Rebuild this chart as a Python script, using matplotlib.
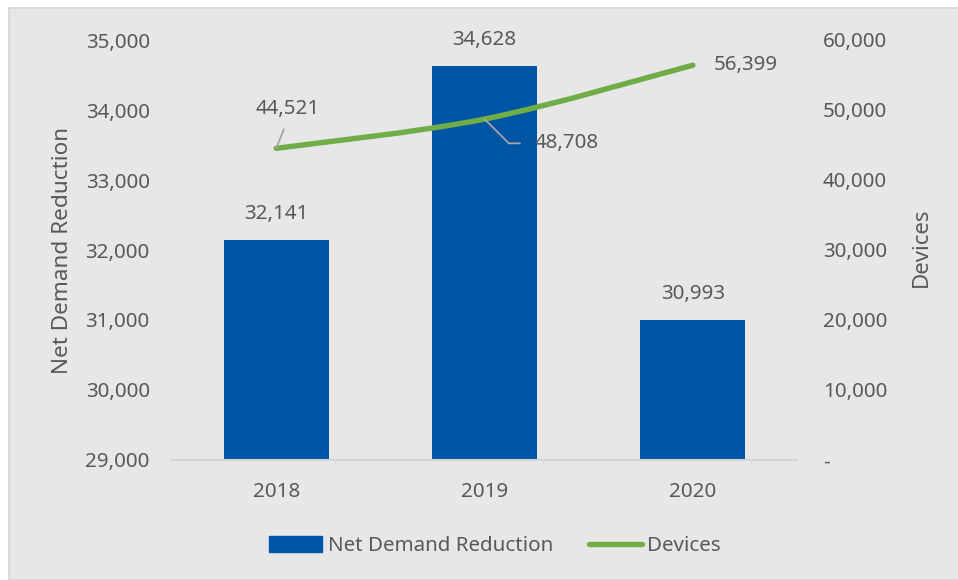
import matplotlib
matplotlib.use("Agg")
import matplotlib.pyplot as plt
from matplotlib.patches import Rectangle, Patch
from matplotlib.lines import Line2D
from matplotlib.path import Path
from matplotlib.patches import PathPatch
from matplotlib.ticker import FuncFormatter

years = ["2018", "2019", "2020"]
net_demand_reduction = [32141, 34628, 30993]
devices = [44521, 48708, 56399]

left_ticks = [29000, 30000, 31000, 32000, 33000, 34000, 35000]
right_ticks = [0, 10000, 20000, 30000, 40000, 50000, 60000]

BAR = "#0055A5"
LINE = "#70AD47"
TEXT = "#595959"
BG = "#E7E7E7"
FONT = "Noto Sans"
FS = 14.8

plt.rcParams["font.family"] = [FONT, "DejaVu Sans"]

fig = plt.figure(figsize=(9.58, 5.80), dpi=100, facecolor="white")
W, H = 958, 580
fig.patches.append(Rectangle((9 / W, 0), 1 - 9 / W + 0.01, 1 - 8 / H,
                             transform=fig.transFigure, facecolor=BG,
                             edgecolor="#D6D6D6", linewidth=1.2, zorder=-10))

ax = fig.add_axes([172 / W, 1 - 460 / H, 625 / W, 420 / H])
ax.set_facecolor("none")
ax2 = ax.twinx()
ax2.set_facecolor("none")

x = list(range(len(years)))
ax.bar(x, net_demand_reduction, width=0.505, color=BAR, zorder=2)
ax.set_xlim(-0.5, 2.5)
ax.set_ylim(left_ticks[0], left_ticks[-1])
ax.set_yticks(left_ticks)
ax.yaxis.set_major_formatter(FuncFormatter(lambda v, p: f"{int(v):,}"))
ax.set_xticks(x)
ax.set_xticklabels(years)

ax2.set_ylim(right_ticks[0], right_ticks[-1])
ax2.set_yticks(right_ticks)
ax2.yaxis.set_major_formatter(
    FuncFormatter(lambda v, p: "-" if v == 0 else f"{int(v):,}"))

for a in (ax, ax2):
    for s in a.spines.values():
        s.set_visible(False)
ax.spines["bottom"].set_visible(True)
ax.spines["bottom"].set_color("#D4D4D4")
ax.spines["bottom"].set_linewidth(1.5)

ax.tick_params(axis="y", length=0, pad=16, labelsize=FS, labelcolor=TEXT)
ax.tick_params(axis="x", length=0, pad=16, labelsize=FS, labelcolor=TEXT)
ax2.tick_params(axis="y", length=0, pad=18.5, labelsize=FS, labelcolor=TEXT)

ax.set_ylabel("Net Demand Reduction", fontsize=16.2, color=TEXT)
ax.yaxis.set_label_coords(-0.158, 0.5)
ax2.set_ylabel("Devices", fontsize=16, color=TEXT)
ax2.yaxis.set_label_coords(1.182, 0.506)

# Smoothed device line (Catmull-Rom segments as cubic Beziers)
pts = list(zip(x, devices))
verts = [pts[0]]
codes = [Path.MOVETO]
for i in range(len(pts) - 1):
    p0 = pts[max(i - 1, 0)]
    p1 = pts[i]
    p2 = pts[i + 1]
    p3 = pts[min(i + 2, len(pts) - 1)]
    c1 = (p1[0] + (p2[0] - p0[0]) / 6, p1[1] + (p2[1] - p0[1]) / 6)
    c2 = (p2[0] - (p3[0] - p1[0]) / 6, p2[1] - (p3[1] - p1[1]) / 6)
    verts += [c1, c2, p2]
    codes += [Path.CURVE4] * 3
curve = PathPatch(Path(verts, codes), facecolor="none", edgecolor=LINE,
                  linewidth=3.9, capstyle="round", joinstyle="round", zorder=3)
ax2.add_patch(curve)

# Bar value labels
for xi, v in zip(x, net_demand_reduction):
    ax.annotate(f"{v:,}", (xi, v), xytext=(0, 19), textcoords="offset points",
                ha="center", va="center", fontsize=FS, color=TEXT)

# Device value labels with leader lines
lead = dict(arrowstyle="-", color="#A6A6A6", linewidth=1.3)
ax2.annotate(f"{devices[0]:,}", (x[0], devices[0]), xytext=(8.6, 28.5),
             textcoords="offset points", ha="center", va="center",
             fontsize=FS, color=TEXT,
             arrowprops=dict(lead, relpos=(0.5, 0), shrinkA=6, shrinkB=0))
ax2.annotate(f"{devices[1]:,}", (x[1], devices[1]), xytext=(36, -17.5),
             textcoords="offset points", ha="left", va="center",
             fontsize=FS, color=TEXT,
             arrowprops=dict(lead, relpos=(0, 0.5), shrinkA=8.5, shrinkB=0,
                             connectionstyle="angle,angleA=180,angleB=-45,rad=0"))
ax2.annotate(f"{devices[2]:,}", (x[2], devices[2]), xytext=(15, 0),
             textcoords="offset points", ha="left", va="center",
             fontsize=FS, color=TEXT)

handles = [Patch(facecolor=BAR, edgecolor=BAR),
           Line2D([0], [0], color=LINE, linewidth=3.9, solid_capstyle="round")]
fig.legend(handles, ["Net Demand Reduction", "Devices"], loc="center",
           bbox_to_anchor=(495 / W, 1 - 546 / H), ncol=2, frameon=False,
           fontsize=FS, labelcolor=TEXT, handlelength=2.6, handletextpad=0.25,
           columnspacing=1.75, handleheight=0.8)

fig.savefig("out.png", dpi=100, facecolor="white")
